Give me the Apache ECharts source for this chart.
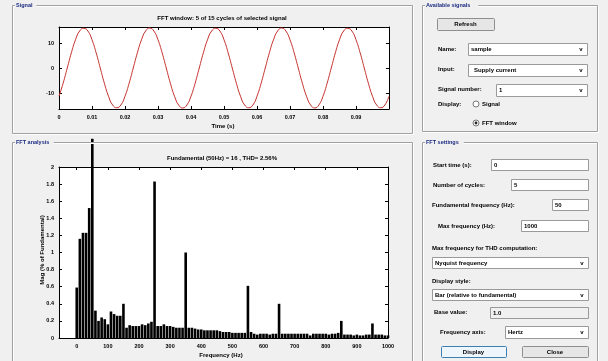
<!DOCTYPE html>
<html>
<head>
<meta charset="utf-8">
<script src="https://cdn.jsdelivr.net/npm/echarts@6/dist/echarts.min.js"></script>
<style>
html,body{margin:0;padding:0;background:#f0f0f0;}
#c{width:608px;height:361px;}
</style>
</head>
<body>
<div id="c"></div>
<script>
// ---------- data ----------
const sigTitle = 'FFT window: 5 of 15 cycles of selected signal';
const sigStep = 0.00125; // s between samples
const sigValues = [
  -11.3, -6.1, 0.0, 6.1, 11.3, 14.8, 15.9, 14.8, 11.3, 6.1, 0.0, -6.1, -11.3, -14.8, -15.9, -14.8,
  -11.3, -6.1, 0.0, 6.1, 11.3, 14.8, 16.0, 14.8, 11.3, 6.1, 0.0, -6.1, -11.3, -14.8, -16.0, -14.8,
  -11.3, -6.1, 0.0, 6.1, 11.3, 14.8, 15.9, 14.8, 11.3, 6.1, 0.0, -6.1, -11.3, -14.8, -15.9, -14.8,
  -11.3, -6.1, 0.0, 6.1, 11.3, 14.8, 16.0, 14.8, 11.3, 6.1, 0.0, -6.1, -11.3, -14.8, -16.0, -14.8,
  -11.3, -6.1, 0.0, 6.1, 11.3, 14.8, 15.9, 14.8, 11.3, 6.1, 0.0, -6.1, -11.3, -14.8, -15.9, -14.8,
  -11.3
];
const sigXTicks = [0, 0.01, 0.02, 0.03, 0.04, 0.05, 0.06, 0.07, 0.08, 0.09];
const sigYTicks = [-10, 0, 10];

const fftTitle = 'Fundamental (50Hz) = 16 , THD= 2.56%';
const fftStep = 10; // Hz between bins
const fftMag = [
  0.59, 1.16, 1.23, 1.23, 1.52, 100, 0.32, 0.20, 0.24, 0.22,
  0.16, 0.31, 0.28, 0.26, 0.26, 0.40, 0.12, 0.15, 0.14, 0.14,
  0.14, 0.16, 0.15, 0.17, 0.19, 1.83, 0.14, 0.14, 0.16, 0.14,
  0.14, 0.13, 0.12, 0.12, 0.12, 1.00, 0.12, 0.12, 0.11, 0.10,
  0.10, 0.09, 0.09, 0.09, 0.09, 0.09, 0.08, 0.07, 0.07, 0.07,
  0.06, 0.06, 0.06, 0.06, 0.06, 0.61, 0.07, 0.05, 0.04, 0.05,
  0.05, 0.05, 0.04, 0.05, 0.05, 0.40, 0.05, 0.05, 0.05, 0.05,
  0.05, 0.05, 0.05, 0.05, 0.05, 0.03, 0.05, 0.05, 0.05, 0.05,
  0.05, 0.04, 0.05, 0.05, 0.06, 0.20, 0.04, 0.04, 0.04, 0.03,
  0.04, 0.03, 0.03, 0.04, 0.04, 0.17, 0.04, 0.04, 0.04, 0.03,
  0.03
];
const fftXTicks = [0, 100, 200, 300, 400, 500, 600, 700, 800, 900, 1000];
const fundamentalVisibleTop = 2.33; // bar is cut at the panel edge

// ---------- build ----------
const sigData = sigValues.map((v, i) => [+(i * sigStep).toFixed(5), v]);
const fftData = fftMag.map((v, i) => [i * fftStep, Math.min(v, fundamentalVisibleTop)]);

const FF = 'Liberation Sans';
const lbl = {fontFamily: FF, fontWeight: 'bold', fontSize: 5.5, color: '#000', formatter: v => String(v)};

function axisCommon(extra) {
  return Object.assign({
    type: 'value',
    axisLine: {show: true, onZero: false, lineStyle: {color: '#000', width: 1}},
    splitLine: {show: false},
    axisTick: {show: true, inside: true, length: 3, lineStyle: {color: '#000'}},
    axisLabel: Object.assign({show: true}, lbl)
  }, extra);
}

const g = [];
function text(x, y, t, o) {
  o = o || {};
  g.push({type: 'text', x: x, y: y, rotation: o.rot || 0, z: 10,
    style: {text: t, fill: o.color || '#000', fontFamily: FF, fontWeight: 'bold',
      fontSize: o.size || 6, align: o.align || 'left', verticalAlign: 'middle'}});
}
function rect(x, y, w, h, fill, stroke, lw, z) {
  g.push({type: 'rect', z: z === undefined ? 5 : z, shape: {x: x, y: y, width: w, height: h},
    style: {fill: fill || 'none', stroke: stroke || 'none', lineWidth: lw || 1}});
}
function frame(x1, y1, x2, y2, title) {
  rect(x1 + 1.5, y1 + 1.5, x2 - x1, y2 - y1, 'none', '#ffffff');
  rect(x1 + 0.5, y1 + 0.5, x2 - x1, y2 - y1, 'none', '#a0a0a0');
  const w = title.length * 2.9 + 4;
  rect(x1 + 3, y1 - 3, w, 6, '#f0f0f0');
  text(x1 + 4, y1, title, {color: '#1b2a80', size: 5.5});
}
function box(x, y, w, h, t, opts) {
  opts = opts || {};
  rect(x + 0.5, y + 0.5, w, h, opts.fill || '#ffffff', '#9a9a9a');
  if (t !== undefined) text(x + (opts.tx || 3), y + h / 2 + 0.5, t);
  if (opts.drop) text(x + w - 6, y + h / 2 + 0.5, 'v', {align: 'center'});
}
function button(x, y, w, h, t, focus) {
  g.push({type: 'rect', z: 5, shape: {x: x + 0.5, y: y + 0.5, width: w, height: h, r: 1},
    style: {fill: focus ? '#eef5fb' : '#e6e6e6', stroke: focus ? '#3c7fb1' : '#8e8e8e', lineWidth: 1}});
  text(x + w / 2, y + h / 2 + 0.5, t, {align: 'center'});
}

// plot backgrounds
rect(59, 27, 330, 82, '#ffffff', 'none', 1, 0);
rect(59, 167, 329, 171, '#ffffff', 'none', 1, 0);

// panels
frame(12, 5, 412, 133, 'Signal');
frame(12, 142, 412, 372, 'FFT analysis');
frame(422, 5, 597, 131, 'Available signals');
frame(422, 142, 597, 372, 'FFT settings');

// plot titles
text(222, 18, sigTitle, {align: 'center'});
text(223, 126, 'Time (s)', {align: 'center'});
text(222, 158, fftTitle, {align: 'center'});
text(221, 355, 'Frequency (Hz)', {align: 'center'});
text(42, 250, 'Mag (% of Fundamental)', {align: 'center', rot: Math.PI / 2});

// available signals
button(437, 18, 57, 12, 'Refresh');
text(438, 49, 'Name:');
box(468, 43, 119, 12, 'sample', {drop: true});
text(438, 69, 'Input:');
box(468, 64, 119, 12, 'Supply current', {drop: true, tx: 6});
text(438, 89, 'Signal number:');
box(496, 84, 91, 12, '1', {drop: true});
text(438, 104, 'Display:');
g.push({type: 'circle', z: 6, shape: {cx: 476, cy: 104, r: 3}, style: {fill: '#fff', stroke: '#777'}});
text(482, 104, 'Signal');
g.push({type: 'circle', z: 6, shape: {cx: 476, cy: 123, r: 3}, style: {fill: '#fff', stroke: '#777'}});
g.push({type: 'circle', z: 7, shape: {cx: 476, cy: 123, r: 1.4}, style: {fill: '#222'}});
text(482, 123, 'FFT window');

// FFT settings
text(433, 165, 'Start time (s):');
box(491, 159, 97, 11, '0');
text(433, 185, 'Number of cycles:');
box(511, 179, 77, 11, '5');
text(432, 205, 'Fundamental frequency (Hz):');
box(552, 199, 36, 11, '50');
text(438, 226, 'Max frequency (Hz):');
box(521, 220, 67, 11, '1000');
text(432, 248, 'Max frequency for THD computation:');
box(432, 257, 156, 11, 'Nyquist frequency', {drop: true});
text(432, 281, 'Display style:');
box(432, 289, 156, 11, 'Bar (relative to fundamental)', {drop: true});
text(434, 312, 'Base value:');
box(490, 307, 98, 11, '1.0', {fill: '#f0f0f0'});
text(440, 332, 'Frequency axis:');
box(505, 326, 83, 12, 'Hertz', {drop: true});
button(441, 346, 65, 11, 'Display', true);
button(522, 346, 66, 11, 'Close');

const tick = vals => ({show: true, inside: true, length: 3, customValues: vals, lineStyle: {color: '#000'}});

const chart = echarts.init(document.getElementById('c'), null, {renderer: 'canvas'});
chart.setOption({
  backgroundColor: '#f0f0f0',
  animation: false,
  graphic: {elements: g},
  grid: [
    {left: 59, top: 27, width: 330, height: 82, containLabel: false},
    {left: 59, top: 167, width: 329, height: 171, containLabel: false}
  ],
  xAxis: [
    axisCommon({gridIndex: 0, min: 0, max: 0.1, axisTick: tick(sigXTicks),
      axisLabel: Object.assign({}, lbl, {customValues: sigXTicks, margin: 5})}),
    axisCommon({gridIndex: 0, min: 0, max: 0.1, position: 'top', axisTick: tick(sigXTicks),
      axisLabel: {show: false}}),
    axisCommon({gridIndex: 1, min: -57, max: 1000, axisTick: tick(fftXTicks),
      axisLabel: Object.assign({}, lbl, {customValues: fftXTicks, margin: 5})}),
    axisCommon({gridIndex: 1, min: -57, max: 1000, position: 'top', axisTick: tick(fftXTicks),
      axisLabel: {show: false}})
  ],
  yAxis: [
    axisCommon({gridIndex: 0, min: -16.4, max: 16.4, axisTick: tick(sigYTicks),
      axisLabel: Object.assign({}, lbl, {customValues: sigYTicks, margin: 5})}),
    axisCommon({gridIndex: 0, min: -16.4, max: 16.4, position: 'right', axisTick: tick(sigYTicks),
      axisLabel: {show: false}}),
    axisCommon({gridIndex: 1, min: 0, max: 2, interval: 0.2,
      axisLabel: Object.assign({}, lbl, {margin: 5})}),
    axisCommon({gridIndex: 1, min: 0, max: 2, interval: 0.2, position: 'right',
      axisLabel: {show: false}})
  ],
  series: [
    {type: 'line', xAxisIndex: 0, yAxisIndex: 0, data: sigData, smooth: 0.5,
      symbol: 'none', lineStyle: {color: '#c4302b', width: 1}, z: 3},
    {type: 'bar', xAxisIndex: 2, yAxisIndex: 2, data: fftData, barWidth: 2.6,
      clip: false, itemStyle: {color: '#000'}, z: 3}
  ]
});
</script>
</body>
</html>
